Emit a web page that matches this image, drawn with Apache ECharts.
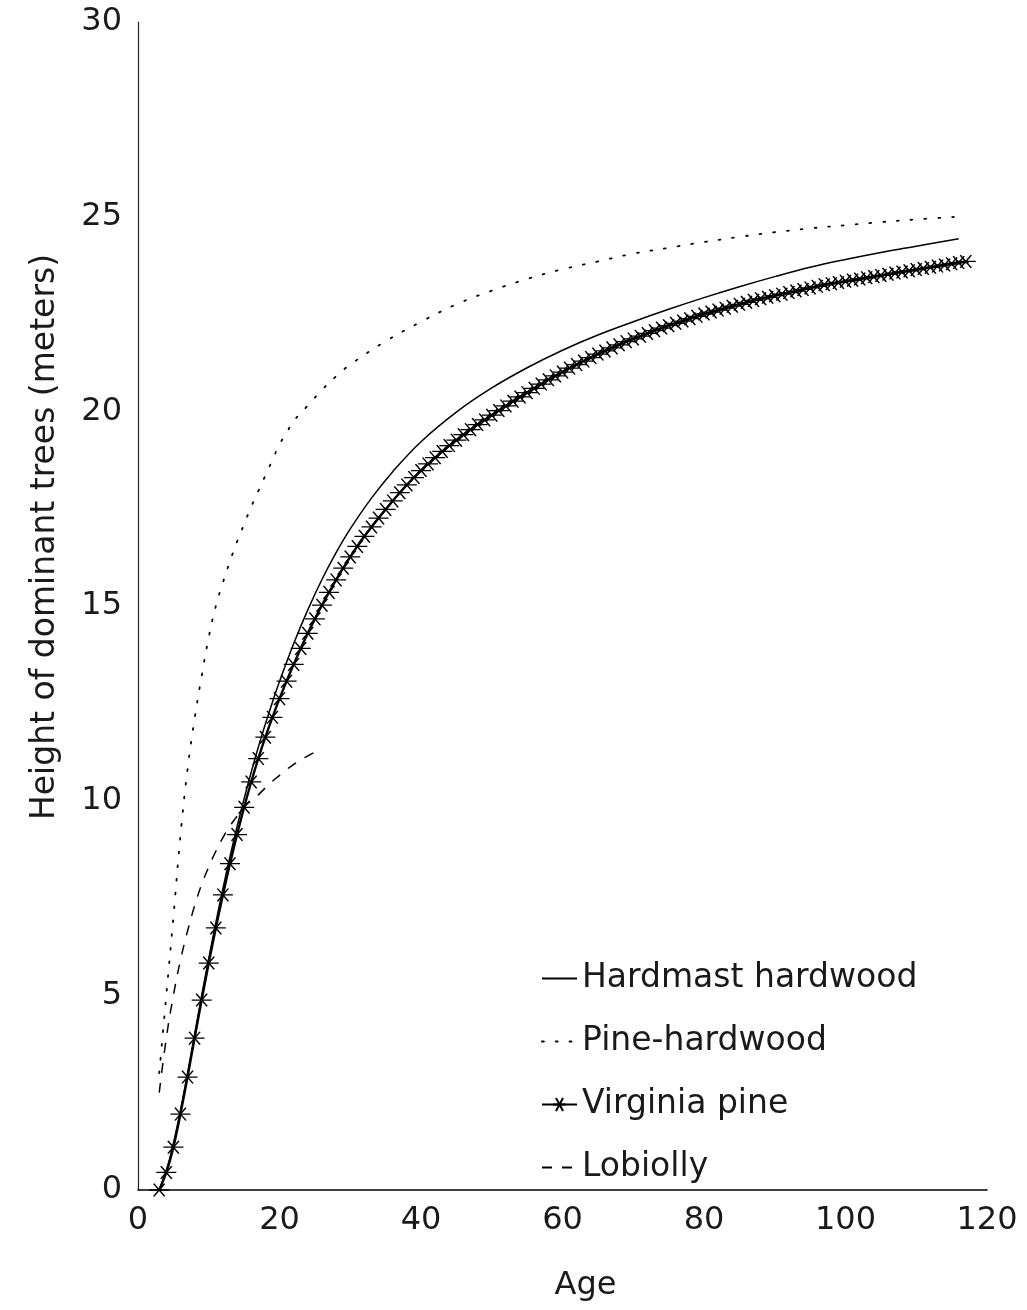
<!DOCTYPE html>
<html>
<head>
<meta charset="utf-8">
<title>Height of dominant trees by age</title>
<script src="https://cdn.jsdelivr.net/npm/echarts@6/dist/echarts.min.js"></script>
<style>
  html, body { margin: 0; padding: 0; background: #fff; }
  #chart { width: 1027px; height: 1310px; }
</style>
</head>
<body>
<div id="chart"></div>
<script>
// Site-index curves: height of dominant trees (m) against stand age (years)

const FONT = "'DejaVu Sans', sans-serif";

const xTicks = [0, 20, 40, 60, 80, 100, 120];
const yTicks = [0, 5, 10, 15, 20, 25, 30];

// Hardmast hardwood (solid line)
const hardmastAges = [3, 4, 5, 6, 7, 8, 9, 10, 11, 12, 13, 14, 15, 16, 17, 18, 19, 20,
  22, 24, 26, 28, 30, 33, 36, 40, 45, 50, 55, 60, 65, 70, 75, 80, 85, 90, 95, 100, 105, 110, 116];
const hardmastHeights = [0, 0.5, 1.2, 2.05, 3.0, 4.0, 5.0, 5.95, 6.87, 7.74, 8.56, 9.33, 10.05, 10.73, 11.37, 11.97, 12.53, 13.06,
  14.03, 14.9, 15.68, 16.37, 16.98, 17.77, 18.45, 19.22, 19.98, 20.6, 21.12, 21.57, 21.96, 22.3, 22.62, 22.92, 23.2, 23.46, 23.7, 23.9, 24.08, 24.24, 24.43];

// Pine-hardwood (dotted line)
const pineHwAges = [3, 4, 5, 6, 7, 8, 9, 10, 11, 12, 13, 14, 15, 16, 17, 18, 19, 20, 21, 22, 24, 26, 28, 30,
  35, 40, 45, 50, 55, 60, 65, 70, 75, 80, 85, 90, 95, 100, 105, 110, 116];
const pineHwHeights = [3.0, 5.0, 7.0, 9.1, 10.8, 12.1, 13.2, 14.2, 15.0, 15.6, 16.15, 16.65, 17.1, 17.55, 17.95, 18.35, 18.75, 19.15, 19.45, 19.75, 20.15, 20.55, 20.9, 21.2,
  21.8, 22.3, 22.75, 23.1, 23.4, 23.65, 23.85, 24.05, 24.2, 24.35, 24.48, 24.6, 24.7, 24.78, 24.86, 24.93, 25.0];

// Virginia pine (one marker per year, ages 3 to 117)
const virginiaStartAge = 3;
const virginiaHeights = [
  0, 0.45, 1.1, 1.95, 2.9, 3.9, 4.88, 5.83, 6.73, 7.58,            // 3-12
  8.38, 9.13, 9.83, 10.48, 11.08, 11.63, 12.14, 12.62, 13.07, 13.5, // 13-22
  13.91, 14.3, 14.67, 15.02, 15.35, 15.67, 15.97, 16.26, 16.53, 16.79, // 23-32
  17.03, 17.26, 17.48, 17.7, 17.91, 18.11, 18.3, 18.48, 18.65, 18.81,  // 33-42
  18.97, 19.12, 19.26, 19.4, 19.53, 19.66, 19.78, 19.9, 20.02, 20.14,  // 43-52
  20.26, 20.37, 20.48, 20.59, 20.7, 20.81, 20.91, 21.01, 21.11, 21.2,  // 53-62
  21.29, 21.38, 21.47, 21.55, 21.63, 21.71, 21.79, 21.86, 21.93, 22.0, // 63-72
  22.07, 22.14, 22.2, 22.26, 22.32, 22.38, 22.44, 22.5, 22.55, 22.6,   // 73-82
  22.65, 22.7, 22.75, 22.8, 22.85, 22.89, 22.93, 22.97, 23.01, 23.05,  // 83-92
  23.09, 23.13, 23.17, 23.21, 23.25, 23.28, 23.31, 23.34, 23.37, 23.4, // 93-102
  23.43, 23.46, 23.49, 23.52, 23.55, 23.58, 23.61, 23.64, 23.67, 23.7, // 103-112
  23.73, 23.76, 23.79, 23.82, 23.85                                    // 113-117
];

// Loblolly (dashed line)
const loblollyAges = [3, 4, 5, 6, 7, 8, 9, 10, 11, 12, 13, 14, 15, 16, 17, 18, 19, 20, 21, 22, 23, 24, 25];
const loblollyHeights = [2.5, 3.9, 5.0, 5.9, 6.65, 7.3, 7.85, 8.3, 8.7, 9.05, 9.35, 9.6, 9.85, 10.0, 10.15, 10.33, 10.5, 10.65, 10.8, 10.93, 11.05, 11.15, 11.25];

const pairs = (xs, ys) => ys.map((y, i) => [xs[i], y]);
const virginiaAges = virginiaHeights.map((_, i) => virginiaStartAge + i);

// six-armed asterisk: horizontal bar plus two diagonals
const STAR = 'path://M0,8L20,8M4.5,0L15.5,16M4.5,16L15.5,0';

const hideSymbol = { opacity: 0 };

const chart = echarts.init(document.getElementById('chart'), null, { renderer: 'canvas' });

chart.setOption({
  animation: false,
  backgroundColor: '#ffffff',
  grid: { left: 138, right: 40, top: 22, bottom: 120, containLabel: false },
  xAxis: {
    type: 'value',
    min: xTicks[0],
    max: xTicks[xTicks.length - 1],
    interval: 20,
    name: 'Age',
    nameLocation: 'middle',
    nameGap: 80,
    nameTextStyle: { fontFamily: FONT, fontSize: 32, color: '#1a1a1a', padding: [0, 0, 0, 46] },
    axisLine: { show: true, lineStyle: { color: '#000', width: 1.6 } },
    axisTick: { show: false },
    splitLine: { show: false },
    axisLabel: { fontFamily: FONT, fontSize: 32, color: '#1a1a1a', margin: 15 }
  },
  yAxis: {
    type: 'value',
    min: yTicks[0],
    max: yTicks[yTicks.length - 1],
    interval: 5,
    name: 'Height of dominant trees (meters)',
    nameLocation: 'middle',
    nameGap: 76,
    nameTextStyle: { fontFamily: FONT, fontSize: 33, color: '#1a1a1a', padding: [0, 0, 0, 138] },
    axisLine: { show: true, lineStyle: { color: '#222', width: 1.2 } },
    axisTick: { show: false },
    splitLine: { show: false },
    axisLabel: { fontFamily: FONT, fontSize: 32, color: '#1a1a1a', margin: 16 }
  },
  legend: {
    orient: 'vertical',
    left: 536,
    top: 957,
    itemWidth: 35,
    itemHeight: 16,
    itemGap: 30,
    textStyle: { fontFamily: FONT, fontSize: 33, color: '#1a1a1a' },
    data: [
      { name: 'Hardmast hardwood', itemStyle: hideSymbol },
      { name: 'Pine-hardwood', itemStyle: hideSymbol },
      { name: 'Virginia pine' },
      { name: 'Lobiolly', itemStyle: hideSymbol }
    ]
  },
  series: [
    {
      name: 'Hardmast hardwood',
      type: 'line',
      data: pairs(hardmastAges, hardmastHeights),
      smooth: 0.4,
      symbol: 'none',
      lineStyle: { color: '#000', width: 1.5 },
      itemStyle: { color: '#000' },
      z: 3
    },
    {
      name: 'Pine-hardwood',
      type: 'line',
      data: pairs(pineHwAges, pineHwHeights),
      smooth: 0.4,
      symbol: 'none',
      lineStyle: { color: '#000', width: 1.8, type: [1.8, 12], cap: 'round' },
      itemStyle: { color: '#000' },
      z: 2
    },
    {
      name: 'Virginia pine',
      type: 'line',
      data: pairs(virginiaAges, virginiaHeights),
      smooth: 0.3,
      symbol: STAR,
      symbolSize: [20, 16],
      symbolKeepAspect: true,
      showSymbol: true,
      showAllSymbol: true,
      lineStyle: { color: '#000', width: 2.4 },
      itemStyle: { color: '#000', borderColor: '#000', borderWidth: 1.4 },
      z: 4
    },
    {
      name: 'Lobiolly',
      type: 'line',
      data: pairs(loblollyAges, loblollyHeights),
      smooth: 0.4,
      symbol: 'none',
      lineStyle: { color: '#000', width: 1.5, type: [10, 10] },
      itemStyle: { color: '#000' },
      z: 2
    }
  ]
});
</script>
</body>
</html>
